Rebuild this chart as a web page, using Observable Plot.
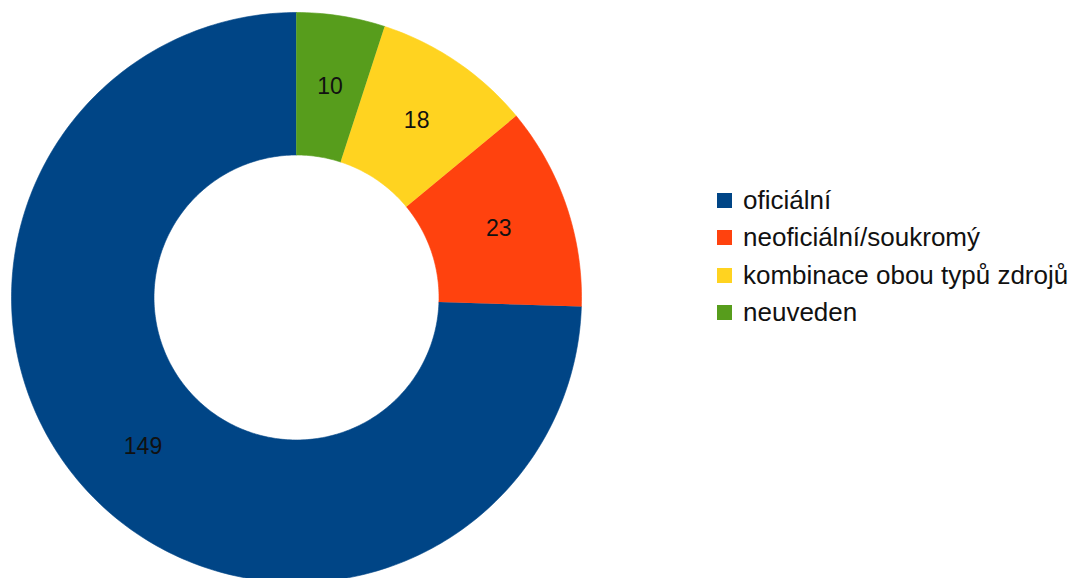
<!DOCTYPE html>
<html>
<head>
<meta charset="utf-8">
<script src="https://cdn.jsdelivr.net/npm/d3@7"></script>
<script src="https://cdn.jsdelivr.net/npm/@observablehq/plot@0.6"></script>
<style>
  html, body { margin: 0; padding: 0; background: #fff; }
  #wrap { position: relative; width: 1081px; height: 578px; overflow: hidden; }
  #legend { position: absolute; left: 717px; top: 182px; font-family: "Liberation Sans", Arial, sans-serif; font-size: 26px; color: #111; }
  .row { display: flex; align-items: center; height: 37.3px; white-space: nowrap; }
  .sw { width: 15px; height: 15px; margin-right: 11px; flex: none; }
</style>
</head>
<body>
<div id="wrap"><div id="legend"></div></div>
<script>
const categories = ["oficiální", "neoficiální/soukromý", "kombinace obou typů zdrojů", "neuveden"];
const values = [149, 23, 18, 10];
const colors = ["#004586", "#ff420e", "#ffd320", "#579d1c"];

const total = d3.sum(values);
const innerR = 0.5, outerR = 1;
// slices go counterclockwise starting from 12 o'clock
const polys = [];
const labels = [];
let cum = 0;
categories.forEach((cat, i) => {
  const a0 = cum / total * 2 * Math.PI;
  cum += values[i];
  const a1 = cum / total * 2 * Math.PI;
  const n = Math.max(4, Math.ceil((a1 - a0) / (Math.PI / 180)));
  const pt = (a, r) => ({cat, x: -Math.sin(a) * r, y: Math.cos(a) * r});
  for (let k = 0; k <= n; k++) polys.push(pt(a0 + (a1 - a0) * k / n, outerR));
  for (let k = n; k >= 0; k--) polys.push(pt(a0 + (a1 - a0) * k / n, innerR));
  const am = (a0 + a1) / 2, rm = (innerR + outerR) / 2;
  labels.push({cat, value: values[i], x: -Math.sin(am) * rm, y: Math.cos(am) * rm});
});

const chart = Plot.plot({
  width: 1081,
  height: 578,
  margin: 0,
  style: {background: "#fff", fontFamily: "Liberation Sans, Arial, sans-serif"},
  x: {domain: [-1, 1], range: [11, 581], axis: null},
  y: {domain: [-1, 1], range: [582, 12], axis: null},
  color: {domain: categories, range: colors},
  marks: [
    Plot.line(polys, {x: "x", y: "y", z: "cat", fill: "cat", stroke: "cat", strokeWidth: 0.6, curve: "linear"}),
    Plot.text(labels, {x: "x", y: "y", text: d => String(d.value), fill: "#111", fontSize: 23})
  ]
});
const wrap = document.getElementById("wrap");
wrap.insertBefore(chart, wrap.firstChild);

const legend = document.getElementById("legend");
categories.forEach((c, i) => {
  const row = document.createElement("div");
  row.className = "row";
  const sw = document.createElement("div");
  sw.className = "sw";
  sw.style.background = colors[i];
  const t = document.createElement("span");
  t.textContent = c;
  row.appendChild(sw);
  row.appendChild(t);
  legend.appendChild(row);
});
</script>
</body>
</html>
